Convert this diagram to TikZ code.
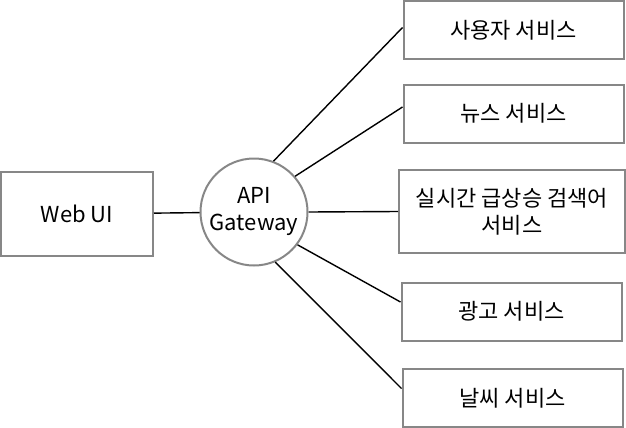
\documentclass[tikz,border=0pt]{standalone}
\usepackage{fontspec}
\setmainfont{Noto Sans CJK KR}
\begin{document}
\begin{tikzpicture}[x=0.5pt, y=-0.5pt,
    every node/.style={font=\fontsize{11}{13.5}\selectfont, align=center, inner sep=0pt},
    svcbox/.style={draw=black!47, line width=1pt, minimum width=110pt, minimum height=29pt},
    link/.style={draw=black, line width=0.7pt}]
  \useasboundingbox (0,0) rectangle (626,428);

  % Client and gateway
  \node[draw=black!47, line width=1pt, minimum width=76pt, minimum height=42pt] (web) at (77,214) {Web UI};
  \node[circle, draw=black!47, line width=1pt, minimum size=53.5pt] (gw) at (254,212) {API\\Gateway};

  % Services
  \node[svcbox] (user) at (513.5,30) {사용자 서비스};
  \node[svcbox] (news) at (513.5,113.5) {뉴스 서비스};
  \node[svcbox, minimum width=113pt, minimum height=41.5pt] (trend) at (512,211.5) {실시간 급상승 검색어\\서비스};
  \node[svcbox] (ads) at (511.5,311.5) {광고 서비스};
  \node[svcbox] (weather) at (512.5,398) {날씨 서비스};

  % Links
  \draw[link] (web) -- (gw);
  \draw[link] (gw.69) -- ([yshift=1.25pt]user.west);
  \draw[link] (gw.41) -- ([yshift=3.25pt]news.west);
  \draw[link] (gw.east) -- (trend.west);
  \draw[link] (gw.-37) -- ([yshift=4.75pt]ads.west);
  \draw[link] (gw.-67) -- ([yshift=4.75pt]weather.west);
\end{tikzpicture}
\end{document}
